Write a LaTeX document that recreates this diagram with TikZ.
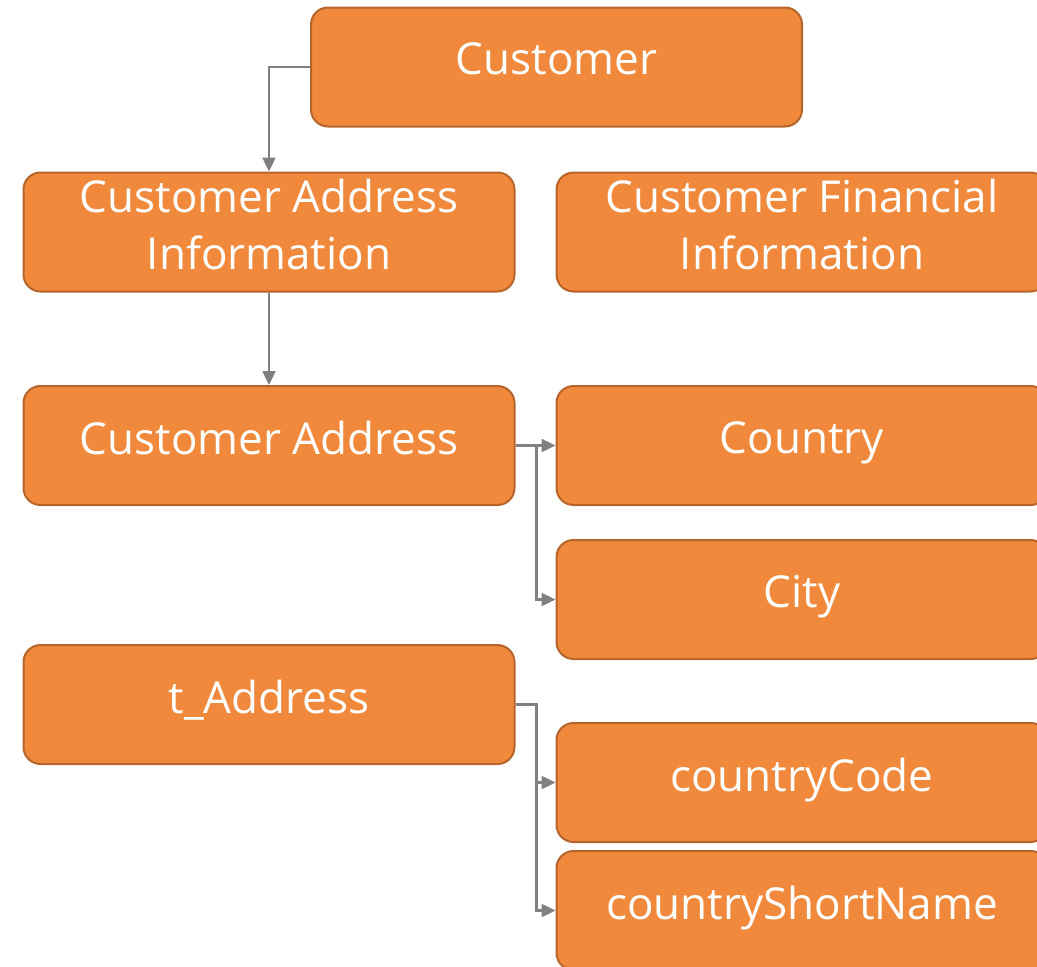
\documentclass[tikz,border=0pt]{standalone}
\usepackage{fontspec}
\setmainfont{Open Sans}
\usetikzlibrary{arrows.meta}

\definecolor{boxfill}{HTML}{F0893B}
\definecolor{boxline}{HTML}{B5652B}
\definecolor{linkgray}{HTML}{808080}

\tikzset{
  entity/.style = {draw = boxline, fill = boxfill, line width = 2pt,
    rounded corners = 17pt, minimum width = 491pt, minimum height = 119pt,
    text = white, align = center, text depth = 16pt,
    font = \fontsize{44}{57}\selectfont},
  link/.style = {draw = linkgray, line width = 2.4pt,
    -{Triangle[length = 14pt, width = 13pt]}}
}

\begin{document}
\begin{tikzpicture}[x = 1pt, y = 1pt]
        \useasboundingbox (0,0) rectangle (1037,-967);
        \clip (0,0) rectangle (1037,-967);

        % top level
        \node [entity] (cust) at (556.5,-67) {Customer};

        % second row
        \node [entity] (cai) at (269,-232) {Customer Address\\Information};
        \node [entity] (cfi) at (802,-232) {Customer Financial\\Information};

        % address and its parts
        \node [entity] (caddr) at (269,-445.5) {Customer Address};
        \node [entity] (country) at (802,-445.5) {Country};
        \node [entity] (city) at (802,-599.5) {City};

        % table and its columns
        \node [entity] (taddr) at (269,-704.5) {t\_Address};
        \node [entity] (ccode) at (802,-782.5) {countryCode};
        \node [entity] (cshort) at (802,-910.5) {countryShortName};

        % connectors
        \draw [link] (cust.west) -| (cai.north);
        \draw [link] (cai.south) -- (caddr.north);
        \draw [link] (caddr.east) -- (country.west);
        \draw [link] (caddr.east) -- ++(21,0) |- (city.west);
        \draw [link] (taddr.east) -- ++(21,0) |- (ccode.west);
        \draw [link] (taddr.east) -- ++(21,0) |- (cshort.west);

    \end{tikzpicture}
\end{document}
